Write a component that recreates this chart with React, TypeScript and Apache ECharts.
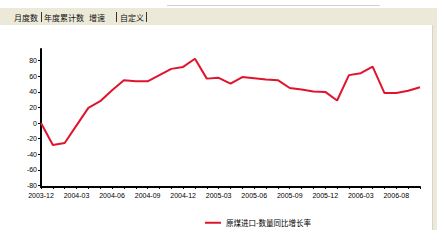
import React, { useEffect, useRef } from "react";
import * as echarts from "echarts";

const categories = [
  "2003-12",
  "2004-01", "2004-02", "2004-03", "2004-04", "2004-05", "2004-06",
  "2004-07", "2004-08", "2004-09", "2004-10", "2004-11", "2004-12",
  "2005-01", "2005-02", "2005-03", "2005-04", "2005-05", "2005-06",
  "2005-07", "2005-08", "2005-09", "2005-10", "2005-11", "2005-12",
  "2006-01", "2006-02", "2006-03", "2006-04", "2006-07", "2006-08",
  "2006-09", "2006-10",
];

const growthValues = [
  0, -28, -25.5, -3, 19.5, 28, 42, 55, 53.5, 53.5, 61.5, 69.5, 72,
  82.5, 57, 58, 50.5, 59, 57.5, 56, 55, 45, 43, 40.5, 40, 29, 61.5,
  64, 72.5, 38.5, 38.5, 41.5, 46,
];

const yTickValues = [-80, -60, -40, -20, 0, 20, 40, 60, 80];

const seriesName = "原煤进口-数量同比增长率";
const tabLabels = ["月度数", "年度累计数", "增速", "自定义"];

export default function App() {
  const ref = useRef<HTMLDivElement>(null);

  useEffect(() => {
    if (!ref.current) return;
    const chart = echarts.init(ref.current, null, { renderer: "svg" });
    const cjk = "'Noto Sans CJK SC', sans-serif";
    const latin = "'Liberation Sans', Arial, sans-serif";
    const tabX = [14, 44, 89, 120];
    const sepX = [41, 116, 146];

    chart.setOption({
      animation: false,
      backgroundColor: "#ffffff",
      graphic: [
        {
          type: "line",
          shape: { x1: 167, y1: 5.5, x2: 380, y2: 5.5 },
          style: { stroke: "#d0d0d0", lineWidth: 1 },
          silent: true,
        },
        {
          type: "rect",
          shape: { x: 0, y: 8, width: 437, height: 17 },
          style: { fill: "#ece9d8" },
          silent: true,
        },
        {
          type: "rect",
          shape: { x: 432, y: 25, width: 5, height: 205 },
          style: { fill: "#ece9d8" },
          silent: true,
        },
        {
          type: "line",
          shape: { x1: 432.5, y1: 25, x2: 432.5, y2: 230 },
          style: { stroke: "#d8d4c4", lineWidth: 1 },
          silent: true,
        },
        ...tabLabels.map((t, i) => ({
          type: "text",
          x: tabX[i],
          y: 17,
          style: {
            text: t,
            fill: "#111",
            font: `8px ${cjk}`,
            verticalAlign: "middle",
          },
          silent: true,
        })),
        ...sepX.map((x) => ({
          type: "line",
          shape: { x1: x + 0.5, y1: 12, x2: x + 0.5, y2: 22 },
          style: { stroke: "#333", lineWidth: 1 },
          silent: true,
        })),
      ],
      grid: { left: 41, right: 24, top: 49, bottom: 54, containLabel: false },
      legend: {
        data: [seriesName],
        left: 200,
        top: 214,
        icon: "rect",
        itemWidth: 16,
        itemHeight: 2,
        textStyle: { fontSize: 7.5, fontFamily: cjk, color: "#000" },
      },
      xAxis: {
        type: "category",
        data: categories,
        boundaryGap: false,
        axisLine: { onZero: false, lineStyle: { color: "#000", width: 2 } },
        axisTick: { interval: 0, length: 2, lineStyle: { color: "#000" } },
        axisLabel: {
          interval: 2,
          fontSize: 7,
          fontFamily: latin,
          color: "#000",
          margin: 5,
        },
        splitLine: { show: false },
      },
      yAxis: {
        type: "value",
        min: -82,
        max: 95,
        axisLine: { show: true, lineStyle: { color: "#000", width: 2 } },
        axisTick: {
          show: true,
          length: 3,
          customValues: yTickValues,
          lineStyle: { color: "#000" },
        },
        axisLabel: {
          customValues: yTickValues,
          fontSize: 7,
          fontFamily: latin,
          color: "#000",
          margin: 4,
        },
        splitLine: { show: false },
      },
      series: [
        {
          name: seriesName,
          type: "line",
          data: growthValues,
          showSymbol: false,
          symbol: "none",
          lineStyle: { color: "#e0142d", width: 2 },
          itemStyle: { color: "#e0142d" },
        },
      ],
    });

    return () => chart.dispose();
  }, []);

  return (
    <div
      ref={ref}
      style={{ position: "fixed", left: 0, top: 0, width: 444, height: 241 }}
    />
  );
}
